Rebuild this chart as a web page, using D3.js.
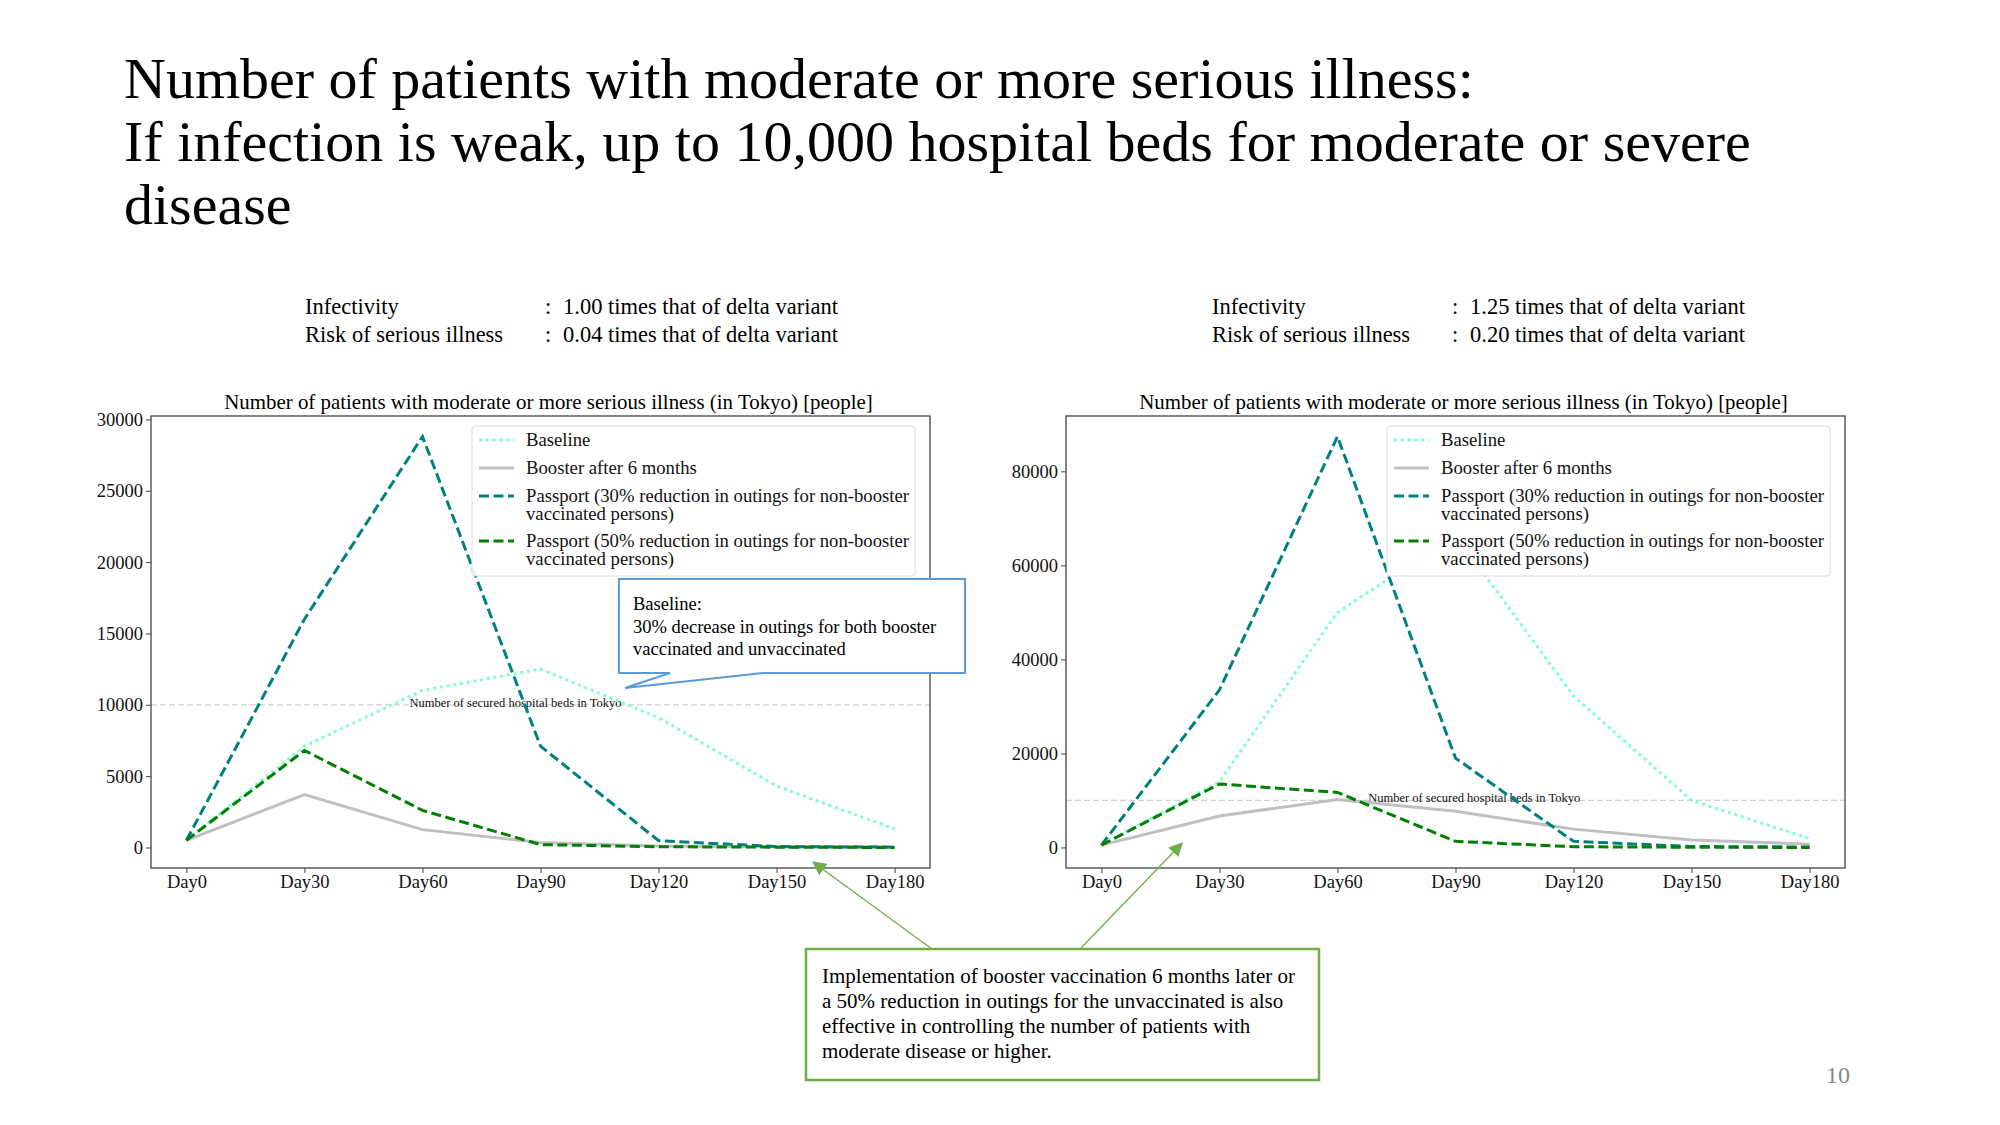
<!DOCTYPE html>
<html lang="en">
<head>
<meta charset="utf-8">
<title>Moderate or more serious illness</title>
<script src="https://cdn.jsdelivr.net/npm/d3@7"></script>
<style>
  body { margin: 0; background: #fff; }
  svg text { font-family: "Liberation Serif", "Times New Roman", serif; }
</style>
</head>
<body>
<svg id="slide" width="2000" height="1125"></svg>
<script>
// x categories
var days = ["Day0", "Day30", "Day60", "Day90", "Day120", "Day150", "Day180"];

// left panel: infectivity 1.00, risk 0.04
var baselineA = [500, 7100, 11000, 12500, 9100, 4300, 1300];
var boosterA = [500, 3700, 1250, 350, 100, 50, 50];
var passport30A = [500, 16000, 28800, 7100, 480, 60, 20];
var passport50A = [500, 6800, 2600, 200, 50, 20, 0];

// right panel: infectivity 1.25, risk 0.20
var baselineB = [500, 14000, 50000, 66500, 32200, 10000, 1900];
var boosterB = [500, 6700, 10200, 7700, 3900, 1600, 700];
var passport30B = [500, 33500, 87400, 19000, 1300, 200, 100];
var passport50B = [500, 13500, 11700, 1300, 150, 50, 0];

var yTicksA = [0, 5000, 10000, 15000, 20000, 25000, 30000];
var yTicksB = [0, 20000, 40000, 60000, 80000];

var seriesNames = [
  ["Baseline"],
  ["Booster after 6 months"],
  ["Passport (30% reduction in outings for non-booster", "vaccinated persons)"],
  ["Passport (50% reduction in outings for non-booster", "vaccinated persons)"]
];
var hospitalBeds = 10000;
var hospitalLabel = "Number of secured hospital beds in Tokyo";

var titleLines = [
  "Number of patients with moderate or more serious illness:",
  "If infection is weak, up to 10,000 hospital beds for moderate or severe",
  "disease"
];
var chartTitle = "Number of patients with moderate or more serious illness (in Tokyo) [people]";
var infoA = ["1.00 times that of delta variant", "0.04 times that of delta variant"];
var infoB = ["1.25 times that of delta variant", "0.20 times that of delta variant"];
var calloutLines = ["Baseline:", "30% decrease in outings for both booster", "vaccinated and unvaccinated"];
var noteLines = [
  "Implementation of booster vaccination 6 months later or",
  "a 50% reduction in outings for the unvaccinated is also",
  "effective in controlling the number of patients with",
  "moderate disease or higher."
];

var styles = [
  { color: "#7fffd4", dash: "3 3.8", width: 3 },
  { color: "#c0c0c0", dash: null, width: 3 },
  { color: "#008080", dash: "10 4.5", width: 3 },
  { color: "#008000", dash: "10 4.5", width: 3 }
];

var svg = d3.select("#slide");

// slide title
svg.append("g").selectAll("text")
  .data(titleLines).enter().append("text")
  .attr("x", 124)
  .attr("y", function (d, i) { return 98 + i * 63; })
  .attr("font-size", 58)
  .attr("fill", "#000")
  .text(function (d) { return d; });

function drawPanel(cfg) {
  var W = 779, top = 416, bottom = 868;
  var g = svg.append("g");
  var x = d3.scaleLinear().domain([-0.3, 6.3]).range([cfg.left, cfg.left + W]);
  var all = d3.merge(cfg.series);
  var lo = d3.min(all), hi = d3.max(all), pad = (hi - lo) * 0.05;
  var y = d3.scaleLinear().domain([lo - pad, hi + pad]).range([bottom, top]);

  // info lines above the chart
  var labels = ["Infectivity", "Risk of serious illness"];
  var ix = cfg.left + cfg.infoShift;
  labels.forEach(function (lab, i) {
    var yy = 314 + i * 28;
    g.append("text").attr("x", ix + 154).attr("y", yy).attr("font-size", 22.5).text(lab);
    g.append("text").attr("x", ix + 394).attr("y", yy).attr("font-size", 22.5).text(":");
    g.append("text").attr("x", ix + 412).attr("y", yy).attr("font-size", 22.5).text(cfg.info[i]);
  });

  g.append("text")
    .attr("x", cfg.left + W / 2 + 8).attr("y", 409)
    .attr("text-anchor", "middle").attr("font-size", 20.9)
    .text(chartTitle);

  // hospital beds reference
  g.append("line")
    .attr("x1", cfg.left).attr("x2", cfg.left + W)
    .attr("y1", y(hospitalBeds)).attr("y2", y(hospitalBeds))
    .attr("stroke", "#cfcfcf").attr("stroke-width", 1.2).attr("stroke-dasharray", "6 3");
  g.append("text")
    .attr("x", x(cfg.labelX)).attr("y", y(hospitalBeds) + 2)
    .attr("font-size", 12.5).attr("fill", "#111")
    .text(hospitalLabel);

  var line = d3.line()
    .x(function (d, i) { return x(i); })
    .y(function (d) { return y(d); });

  cfg.series.forEach(function (s, k) {
    g.append("path")
      .datum(s)
      .attr("d", line)
      .attr("fill", "none")
      .attr("stroke", styles[k].color)
      .attr("stroke-width", styles[k].width)
      .attr("stroke-dasharray", styles[k].dash);
  });

  // axes
  var xa = g.append("g").attr("transform", "translate(0," + bottom + ")")
    .call(d3.axisBottom(x).tickValues(d3.range(days.length))
      .tickFormat(function (i) { return days[i]; }).tickSize(5).tickPadding(2));
  var ya = g.append("g").attr("transform", "translate(" + cfg.left + ",0)")
    .call(d3.axisLeft(y).tickValues(cfg.yTicks).tickFormat(d3.format("d")).tickSize(5).tickPadding(3));
  [xa, ya].forEach(function (a) {
    a.select(".domain").remove();
    a.selectAll("line").attr("stroke", "#444");
    a.selectAll("text").attr("font-size", 18.5).attr("fill", "#111")
      .style("font-family", "'Liberation Serif', serif");
  });

  g.append("rect")
    .attr("x", cfg.left).attr("y", top).attr("width", W).attr("height", bottom - top)
    .attr("fill", "none").attr("stroke", "#444").attr("stroke-width", 1.3);

  // legend
  var lgX = cfg.left + W - 15 - 443, lgY = top + 10;
  var lg = g.append("g");
  lg.append("rect")
    .attr("x", lgX).attr("y", lgY).attr("width", 443).attr("height", 150).attr("rx", 3)
    .attr("fill", "#fff").attr("fill-opacity", 0.9).attr("stroke", "#dcdcdc");
  var rowY = [[14], [42], [70, 88], [115, 133]];
  seriesNames.forEach(function (names, k) {
    lg.append("line")
      .attr("x1", lgX + 7).attr("x2", lgX + 42)
      .attr("y1", lgY + rowY[k][0]).attr("y2", lgY + rowY[k][0])
      .attr("stroke", styles[k].color).attr("stroke-width", styles[k].width)
      .attr("stroke-dasharray", styles[k].dash);
    names.forEach(function (n, j) {
      lg.append("text")
        .attr("x", lgX + 54).attr("y", lgY + rowY[k][j]).attr("dy", "0.33em")
        .attr("font-size", 18.7).attr("fill", "#111").text(n);
    });
  });

  return { x: x, y: y };
}

var pA = drawPanel({ left: 151, series: [baselineA, boosterA, passport30A, passport50A],
  yTicks: yTicksA, info: infoA, labelX: 1.89, infoShift: 0 });
var pB = drawPanel({ left: 1066, series: [baselineB, boosterB, passport30B, passport50B],
  yTicks: yTicksB, info: infoB, labelX: 2.26, infoShift: -8 });

// blue callout for baseline
var callout = [[619, 579], [965, 579], [965, 673], [763, 673], [625, 688], [670, 673], [619, 673]];
svg.append("polygon")
  .attr("points", callout.map(function (p) { return p.join(","); }).join(" "))
  .attr("fill", "#fff").attr("stroke", "#5b9bd5").attr("stroke-width", 2);
svg.append("g").selectAll("text").data(calloutLines).enter().append("text")
  .attr("x", 633).attr("y", function (d, i) { return 610 + i * 22.5; })
  .attr("font-size", 18.5).text(function (d) { return d; });

// green note with arrows
svg.append("defs").append("marker")
  .attr("id", "gh").attr("viewBox", "0 0 10 10").attr("refX", 9).attr("refY", 5)
  .attr("markerWidth", 14).attr("markerHeight", 14).attr("markerUnits", "userSpaceOnUse")
  .attr("orient", "auto")
  .append("path").attr("d", "M0,0L10,5L0,10z").attr("fill", "#70ad47");
var arrows = [
  [[932, 949], [pA.x(5.31), pA.y(-1030)]],
  [[1081, 948], [pB.x(0.683), pB.y(900)]]
];
arrows.forEach(function (a) {
  svg.append("line")
    .attr("x1", a[0][0]).attr("y1", a[0][1]).attr("x2", a[1][0]).attr("y2", a[1][1])
    .attr("stroke", "#70ad47").attr("stroke-width", 1.3).attr("marker-end", "url(#gh)");
});
svg.append("rect")
  .attr("x", 806).attr("y", 949).attr("width", 513).attr("height", 131)
  .attr("fill", "#fff").attr("stroke", "#70ad47").attr("stroke-width", 2.5);
svg.append("g").selectAll("text").data(noteLines).enter().append("text")
  .attr("x", 822).attr("y", function (d, i) { return 983 + i * 25; })
  .attr("font-size", 21).text(function (d) { return d; });

svg.append("text").attr("x", 1850).attr("y", 1083).attr("text-anchor", "end")
  .attr("font-size", 24).attr("fill", "#888").text("10");
</script>
</body>
</html>
